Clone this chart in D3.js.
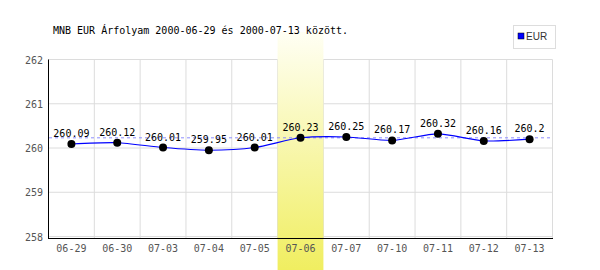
<!DOCTYPE html>
<html>
<head>
<meta charset="utf-8">
<script src="https://cdn.jsdelivr.net/npm/d3@7"></script>
<style>
  body { margin: 0; background: #fff; }
  svg { display: block; }
</style>
</head>
<body>
<svg id="chart" width="600" height="270"></svg>
<script>
// Chart data
const dates = ["06-29", "06-30", "07-03", "07-04", "07-05", "07-06", "07-07", "07-10", "07-11", "07-12", "07-13"];
const rates = [260.09, 260.12, 260.01, 259.95, 260.01, 260.23, 260.25, 260.17, 260.32, 260.16, 260.2];
const rateLabels = ["260.09", "260.12", "260.01", "259.95", "260.01", "260.23", "260.25", "260.17", "260.32", "260.16", "260.2"];
const yTicks = [258, 259, 260, 261, 262];
const highlightDate = "07-06";
const title = "MNB EUR Árfolyam 2000-06-29 és 2000-07-13 között.";
const seriesName = "EUR";

const svg = d3.select("#chart");
const mono = "'DejaVu Sans Mono', monospace";

const x = d3.scaleBand().domain(dates).range([48.5, 552.5]).padding(0);
const y = d3.scaleLinear().domain([258, 262]).range([236.5, 59.5]);

// gradient for highlighted day
const defs = svg.append("defs");
const grad = defs.append("linearGradient")
    .attr("id", "hl").attr("x1", 0).attr("y1", 0).attr("x2", 0).attr("y2", 1);
grad.append("stop").attr("offset", "0%").attr("stop-color", "#fffff4");
grad.append("stop").attr("offset", "100%").attr("stop-color", "#f0ee60");

// grid
svg.append("g").selectAll("line").data(yTicks).join("line")
    .attr("x1", 48.5).attr("x2", 552.5)
    .attr("y1", d => y(d)).attr("y2", d => y(d))
    .attr("stroke", "#dcdcdc").attr("stroke-width", 1);

svg.append("g").selectAll("line").data(dates.concat(["end"])).join("line")
    .attr("x1", (d, i) => i < dates.length ? x(d) : x.range()[1])
    .attr("x2", (d, i) => i < dates.length ? x(d) : x.range()[1])
    .attr("y1", y(262)).attr("y2", 238)
    .attr("stroke", "#dcdcdc").attr("stroke-width", 1);

// highlight band
svg.append("rect")
    .attr("x", x(highlightDate)).attr("width", x.bandwidth())
    .attr("y", 32).attr("height", 238)
    .attr("fill", "url(#hl)");

// y tick labels
svg.append("g").selectAll("text").data(yTicks).join("text")
    .attr("x", 43).attr("y", d => y(d) + 4)
    .attr("text-anchor", "end")
    .attr("font-family", mono)
    .attr("font-size", 10).attr("fill", "#555")
    .text(d => d);

// x tick labels
svg.append("g").selectAll("text").data(dates).join("text")
    .attr("x", d => x(d) + x.bandwidth() / 2).attr("y", 252)
    .attr("text-anchor", "middle")
    .attr("font-family", mono)
    .attr("font-size", 10).attr("fill", "#555")
    .text(d => d);

// axes lines
svg.append("line").attr("x1", 48.5).attr("x2", 48.5).attr("y1", y(262)).attr("y2", 238.5)
    .attr("stroke", "#000").attr("stroke-width", 1);
svg.append("line").attr("x1", 48).attr("x2", 553).attr("y1", 238.5).attr("y2", 238.5)
    .attr("stroke", "#000").attr("stroke-width", 1);

// reference line at highlighted day's value
const refVal = rates[dates.indexOf(highlightDate)];
svg.append("line")
    .attr("x1", 49).attr("x2", 552)
    .attr("y1", y(refVal)).attr("y2", y(refVal))
    .attr("stroke", "#8c8cff").attr("stroke-width", 1)
    .attr("stroke-dasharray", "3,3");

const cx = d => x(d) + x.bandwidth() / 2;

// series line
const line = d3.line()
    .x((d, i) => cx(dates[i]))
    .y(d => y(d))
    .curve(d3.curveCardinal.tension(0.3));

svg.append("path")
    .datum(rates)
    .attr("fill", "none")
    .attr("stroke", "#0000ff")
    .attr("stroke-width", 1.1)
    .attr("d", line);

// points
svg.append("g").selectAll("circle").data(rates).join("circle")
    .attr("cx", (d, i) => cx(dates[i]))
    .attr("cy", d => y(d))
    .attr("r", 4)
    .attr("fill", "#000");

// value labels
svg.append("g").selectAll("text").data(rates).join("text")
    .attr("x", (d, i) => cx(dates[i]))
    .attr("y", d => y(d) - 7)
    .attr("text-anchor", "middle")
    .attr("font-family", mono)
    .attr("font-size", 10).attr("fill", "#000")
    .text((d, i) => rateLabels[i]);

// title
svg.append("text")
    .attr("x", 53).attr("y", 34)
    .attr("font-family", mono)
    .attr("font-size", 10).attr("fill", "#000")
    .text(title);

// legend
const lg = svg.append("g");
lg.append("rect").attr("x", 513.5).attr("y", 25.5).attr("width", 42).attr("height", 23)
    .attr("fill", "#fff").attr("stroke", "#ddd");
lg.append("rect").attr("x", 518).attr("y", 33).attr("width", 6).attr("height", 6)
    .attr("fill", "#0000ff").attr("stroke", "#000").attr("stroke-width", 0.5);
lg.append("text").attr("x", 526).attr("y", 40)
    .attr("font-family", "'Liberation Sans', Arial, sans-serif")
    .attr("font-size", 10).attr("fill", "#333")
    .text(seriesName);
</script>
</body>
</html>
